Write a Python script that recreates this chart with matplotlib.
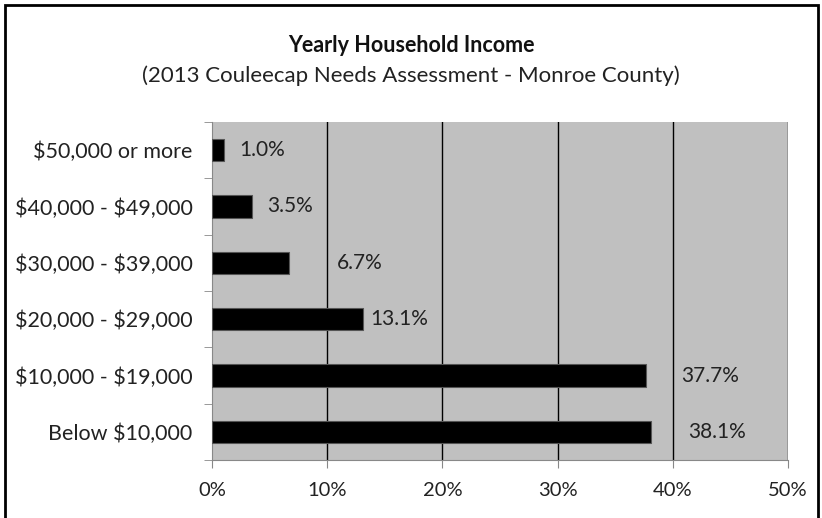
import matplotlib.pyplot as plt
from matplotlib.patches import Rectangle
from matplotlib.ticker import FixedLocator, FuncFormatter

plt.rcParams['font.family'] = ['Lato', 'DejaVu Sans']
plt.rcParams['text.parse_math'] = False  # labels contain "$"

categories = ['Below $10,000', '$10,000 - $19,000', '$20,000 - $29,000',
              '$30,000 - $39,000', '$40,000 - $49,000', '$50,000 or more']
percent = [38.1, 37.7, 13.1, 6.7, 3.5, 1.0]
labels = ['38.1%', '37.7%', '13.1%', '6.7%', '3.5%', '1.0%']
# gap between bar end and its label, in points
label_gap = [27, 25, 5, 34, 11, 11]

fig = plt.figure(figsize=(8.22, 5.18), dpi=100)
ax = fig.add_axes([212 / 822, 1 - 460 / 518, 576 / 822, 338 / 518])

ax.set_facecolor('#c0c0c0')
ypos = range(len(categories))
ax.barh(ypos, percent, height=0.4, color='black', edgecolor='#555555', linewidth=0.8, zorder=3)
for y, v, t, g in zip(ypos, percent, labels, label_gap):
    ax.annotate(t, (v, y), xytext=(g, 0), textcoords='offset points',
                va='center', ha='left', fontsize=15, color='#222222', zorder=4)

ax.set_xlim(0, 50)
ax.set_ylim(-0.5, len(categories) - 0.5)
ax.set_xticks(range(0, 51, 10))
ax.xaxis.set_major_formatter(FuncFormatter(lambda x, p: f'{x:.0f}%'))
for x in range(10, 51, 10):
    ax.axvline(x, color='black', linewidth=1.0, zorder=2)

ax.set_yticks(list(ypos))
ax.set_yticklabels(categories)
ax.yaxis.set_minor_locator(FixedLocator([i - 0.5 for i in range(len(categories) + 1)]))
ax.tick_params(axis='y', which='major', length=0, pad=14, labelsize=15.5, labelcolor='#222222')
ax.tick_params(axis='y', which='minor', length=6, color='#888888', direction='out')
ax.tick_params(axis='x', length=6, color='#888888', labelsize=14.5, labelcolor='#222222', pad=10)

ax.spines['top'].set_visible(False)
ax.spines['right'].set_visible(False)
ax.spines['left'].set_color('#888888')
ax.spines['bottom'].set_color('#888888')

fig.text(0.5, 1 - 45 / 518, 'Yearly Household Income', ha='center', va='center',
         fontsize=15.5, fontweight='bold', color='#111111')
fig.text(0.5, 1 - 76 / 518, '(2013 Couleecap Needs Assessment - Monroe County)',
         ha='center', va='center', fontsize=16, color='#222222')

# chart frame
fig.patches.append(Rectangle((5 / 822, -0.1), 813 / 822, 1.1 - 5 / 518,
                             transform=fig.transFigure, fill=False,
                             edgecolor='black', linewidth=2))

fig.savefig('out.png', dpi=100)
